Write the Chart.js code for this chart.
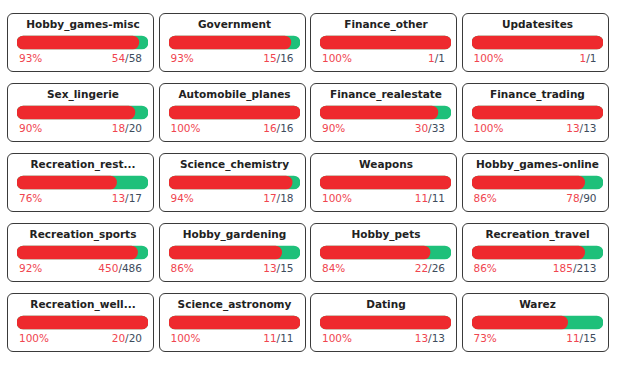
<!DOCTYPE html>
<html>
<head>
<meta charset="utf-8">
<script src="https://cdn.jsdelivr.net/npm/chart.js@4"></script>
<style>
    body { margin: 0; background: #fff; font-family: "DejaVu Sans", sans-serif; }
    #grid { position: relative; width: 619px; height: 370px; }
    .card {
        position: absolute; width: 145px; height: 57px;
        border: 1px solid #3a3a3a; border-radius: 6px; box-sizing: content-box;
    }
    .title {
        position: absolute; left: 10px; right: 5px; top: 4px;
        text-align: center; font-weight: bold; font-size: 10.5px; color: #222;
        white-space: nowrap;
    }
    .card canvas { position: absolute; left: 9px; top: 21px; }
    .pct { position: absolute; left: 11px; top: 38px; font-size: 10.5px; color: #f0454f; }
    .cnt { position: absolute; right: 11px; top: 38px; font-size: 10.5px; color: #3d4b5c; }
    .cnt span { color: #f0454f; }
</style>
</head>
<body>
<div id="grid"></div>
<script>
    // Categorías y valores
    const categorias = [
        'Hobby_games-misc', 'Government', 'Finance_other', 'Updatesites',
        'Sex_lingerie', 'Automobile_planes', 'Finance_realestate', 'Finance_trading',
        'Recreation_rest...', 'Science_chemistry', 'Weapons', 'Hobby_games-online',
        'Recreation_sports', 'Hobby_gardening', 'Hobby_pets', 'Recreation_travel',
        'Recreation_well...', 'Science_astronomy', 'Dating', 'Warez'
    ];
    const bloqueados = [54, 15, 1, 1, 18, 16, 30, 13, 13, 17, 11, 78, 450, 13, 22, 185, 20, 11, 13, 11];
    const totales = [58, 16, 1, 1, 20, 16, 33, 13, 17, 18, 11, 90, 486, 15, 26, 213, 20, 11, 13, 15];
    const porcentajes = [93, 93, 100, 100, 90, 100, 90, 100, 76, 94, 100, 86, 92, 86, 84, 86, 100, 100, 100, 73];

    const grid = document.getElementById('grid');

    categorias.forEach((nombre, i) => {
        const col = i % 4, fila = Math.floor(i / 4);
        const card = document.createElement('div');
        card.className = 'card';
        card.style.left = (7 + col * 151.5) + 'px';
        card.style.top = (12.5 + fila * 70) + 'px';
        card.innerHTML =
            '<div class="title">' + nombre + '</div>' +
            '<canvas width="131" height="15"></canvas>' +
            '<div class="pct">' + porcentajes[i] + '%</div>' +
            '<div class="cnt"><span>' + bloqueados[i] + '</span>/' + totales[i] + '</div>';
        grid.appendChild(card);

        const ctx = card.querySelector('canvas').getContext('2d');
        new Chart(ctx, {
            type: 'bar',
            data: {
                labels: [nombre],
                datasets: [{
                    data: [porcentajes[i]],
                    backgroundColor: '#ee2a2e',
                    order: 0
                }, {
                    data: [100],
                    backgroundColor: '#1ec07a',
                    order: 1
                }]
            },
            options: {
                indexAxis: 'y',
                responsive: false,
                animation: false,
                datasets: { bar: { grouped: false, barThickness: 13, borderRadius: 7, borderSkipped: false } },
                layout: { padding: 0 },
                plugins: { legend: { display: false }, tooltip: { enabled: false } },
                scales: {
                    x: { display: false, min: 0, max: 100 },
                    y: { display: false }
                }
            }
        });
    });
</script>
</body>
</html>
